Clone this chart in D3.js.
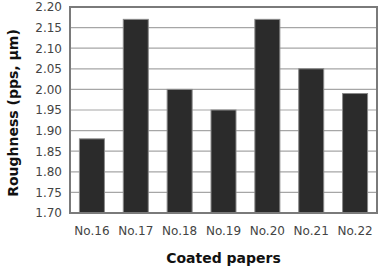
<!DOCTYPE html>
<html>
<head>
<meta charset="utf-8">
<script src="https://cdn.jsdelivr.net/npm/d3@7"></script>
<style>
body { margin: 0; background: #fff; }
text { font-family: "DejaVu Sans", sans-serif; }
</style>
</head>
<body>
<script>
// chart data
var papers = ["No.16", "No.17", "No.18", "No.19", "No.20", "No.21", "No.22"];
var roughness = [1.88, 2.17, 2.00, 1.95, 2.17, 2.05, 1.99];
var yTicks = [1.70, 1.75, 1.80, 1.85, 1.90, 1.95, 2.00, 2.05, 2.10, 2.15, 2.20];

var margin = {top: 7, right: 8, bottom: 59, left: 70};
var width = 385 - margin.left - margin.right;
var height = 272 - margin.top - margin.bottom;

var svg = d3.select("body").append("svg")
    .attr("width", 385)
    .attr("height", 272);

var g = svg.append("g")
    .attr("transform", "translate(" + margin.left + "," + margin.top + ")");

var x = d3.scaleBand().domain(papers).range([0, width]).paddingInner(0.43).paddingOuter(0.215);
var y = d3.scaleLinear().domain([1.70, 2.20]).range([height, 0]);

// gridlines
g.selectAll(".grid").data(yTicks).enter().append("line")
    .attr("x1", 0).attr("x2", width)
    .attr("y1", function(d){ return y(d); })
    .attr("y2", function(d){ return y(d); })
    .attr("stroke", "#a6a6a6")
    .attr("stroke-width", 1.2);

// bars
g.selectAll(".bar").data(roughness).enter().append("rect")
    .attr("x", function(d, i){ return x(papers[i]); })
    .attr("y", function(d){ return y(d); })
    .attr("width", x.bandwidth())
    .attr("height", function(d){ return height - y(d); })
    .attr("fill", "#2b2b2b")
    .attr("stroke", "#8a8a8a")
    .attr("stroke-width", 1);

// frame
g.append("rect")
    .attr("x", 0).attr("y", 0)
    .attr("width", width).attr("height", height)
    .attr("fill", "none")
    .attr("stroke", "#7a7a7a")
    .attr("stroke-width", 2);

// y axis labels
var yAxis = d3.axisLeft(y).tickValues(yTicks).tickSize(0).tickPadding(8)
    .tickFormat(d3.format(".2f"));
g.append("g").call(yAxis)
    .call(function(s){ s.select(".domain").remove(); })
    .selectAll("text")
    .attr("font-size", 12)
    .attr("fill", "#444");

// x axis labels
var xAxis = d3.axisBottom(x).tickSize(0).tickPadding(13);
g.append("g").attr("transform", "translate(0," + height + ")").call(xAxis)
    .call(function(s){ s.select(".domain").remove(); })
    .selectAll("text")
    .attr("font-size", 12)
    .attr("fill", "#444");

// axis titles
svg.append("text")
    .attr("x", margin.left + width / 2)
    .attr("y", 263)
    .attr("text-anchor", "middle")
    .attr("font-size", 14)
    .attr("font-weight", "bold")
    .attr("fill", "#111")
    .text("Coated  papers");

svg.append("text")
    .attr("transform", "translate(18,113) rotate(-90)")
    .attr("text-anchor", "middle")
    .attr("font-size", 14)
    .attr("font-weight", "bold")
    .attr("fill", "#111")
    .text("Roughness  (pps,  μm)");
</script>
</body>
</html>
